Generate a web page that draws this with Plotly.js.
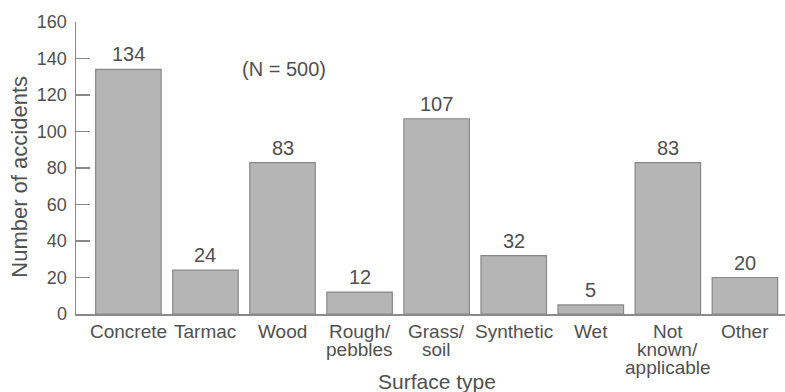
<!DOCTYPE html>
<html>
<head>
<meta charset="utf-8">
<script src="https://cdn.plot.ly/plotly-3.0.1.min.js"></script>
<style>html,body{margin:0;padding:0;background:#fff;}#chart{width:785px;height:392px;}</style>
</head>
<body>
<div id="chart"></div>
<script>
var categories = ["Concrete", "Tarmac", "Wood", "Rough/<br>pebbles", "Grass/<br>soil", "Synthetic", "Wet", "Not<br>known/<br>applicable", "Other"];
var accidents = [134, 24, 83, 12, 107, 32, 5, 83, 20];
var yTicks = [0, 20, 40, 60, 80, 100, 120, 140, 160];
var noteText = "(N = 500)";
var xTitle = "Surface type";
var yTitle = "Number of accidents";

var txtColor = "#505050";
var fontFam = "Liberation Sans, Arial, sans-serif";

// plot area geometry (pixels)
var L = 76, T = 22, W = 709, H = 292.5;
function px2paperX(px) { return (px - L) / W; }
function px2paperY(py) { return (T + H - py) / H; }

var idx = categories.map(function (c, i) { return i; });

var trace = {
  type: "bar",
  x: idx,
  y: accidents,
  marker: { color: "#b5b5b5", line: { color: "#888888", width: 1.2 } },
  width: 0.85,
  hoverinfo: "skip"
};

var annotations = [];
// value labels
accidents.forEach(function (v, i) {
  annotations.push({
    x: i, y: v, xref: "x", yref: "y",
    text: String(v), showarrow: false,
    yanchor: "bottom", yshift: 2,
    font: { family: fontFam, size: 20, color: txtColor }
  });
});
// category labels, one annotation per line (tight line spacing as in the original)
categories.forEach(function (c, i) {
  c.split("<br>").forEach(function (line, j) {
    annotations.push({
      x: i, xref: "x", y: px2paperY(332 + 18 * j), yref: "paper",
      text: line, showarrow: false, xanchor: "center", yanchor: "middle",
      font: { family: fontFam, size: 19, color: txtColor }
    });
  });
});
annotations.push({
  x: px2paperX(284), y: px2paperY(69), xref: "paper", yref: "paper",
  text: noteText, showarrow: false, xanchor: "center", yanchor: "middle",
  font: { family: fontFam, size: 20, color: txtColor }
});
annotations.push({
  x: px2paperX(437), y: px2paperY(382), xref: "paper", yref: "paper",
  text: xTitle, showarrow: false, xanchor: "center", yanchor: "middle",
  font: { family: fontFam, size: 21, color: txtColor }
});
annotations.push({
  x: px2paperX(20), y: px2paperY(177), xref: "paper", yref: "paper",
  text: yTitle, showarrow: false, xanchor: "center", yanchor: "middle",
  textangle: -90,
  font: { family: fontFam, size: 22, color: txtColor }
});

var layout = {
  width: 785, height: 392,
  margin: { l: L, r: 0, t: T, b: 392 - T - H },
  paper_bgcolor: "#ffffff", plot_bgcolor: "#ffffff",
  showlegend: false,
  font: { family: fontFam, size: 18, color: txtColor },
  xaxis: {
    range: [-0.68, 8.52],
    tickmode: "array", tickvals: idx, showticklabels: false,
    showgrid: false, zeroline: false,
    showline: true, linecolor: "#8a8a8a", linewidth: 1.5,
    ticks: "",
    fixedrange: true
  },
  yaxis: {
    range: [0, 160],
    tickmode: "array", tickvals: yTicks,
    showgrid: false, zeroline: false,
    showline: true, linecolor: "#8a8a8a", linewidth: 1.5,
    ticks: "inside", ticklen: 14, tickwidth: 1.5, tickcolor: "#8a8a8a",
    ticklabelstandoff: 4,
    tickfont: { family: fontFam, size: 18, color: txtColor },
    fixedrange: true
  },
  annotations: annotations
};

Plotly.newPlot("chart", [trace], layout, { displayModeBar: false, staticPlot: true });
</script>
</body>
</html>
